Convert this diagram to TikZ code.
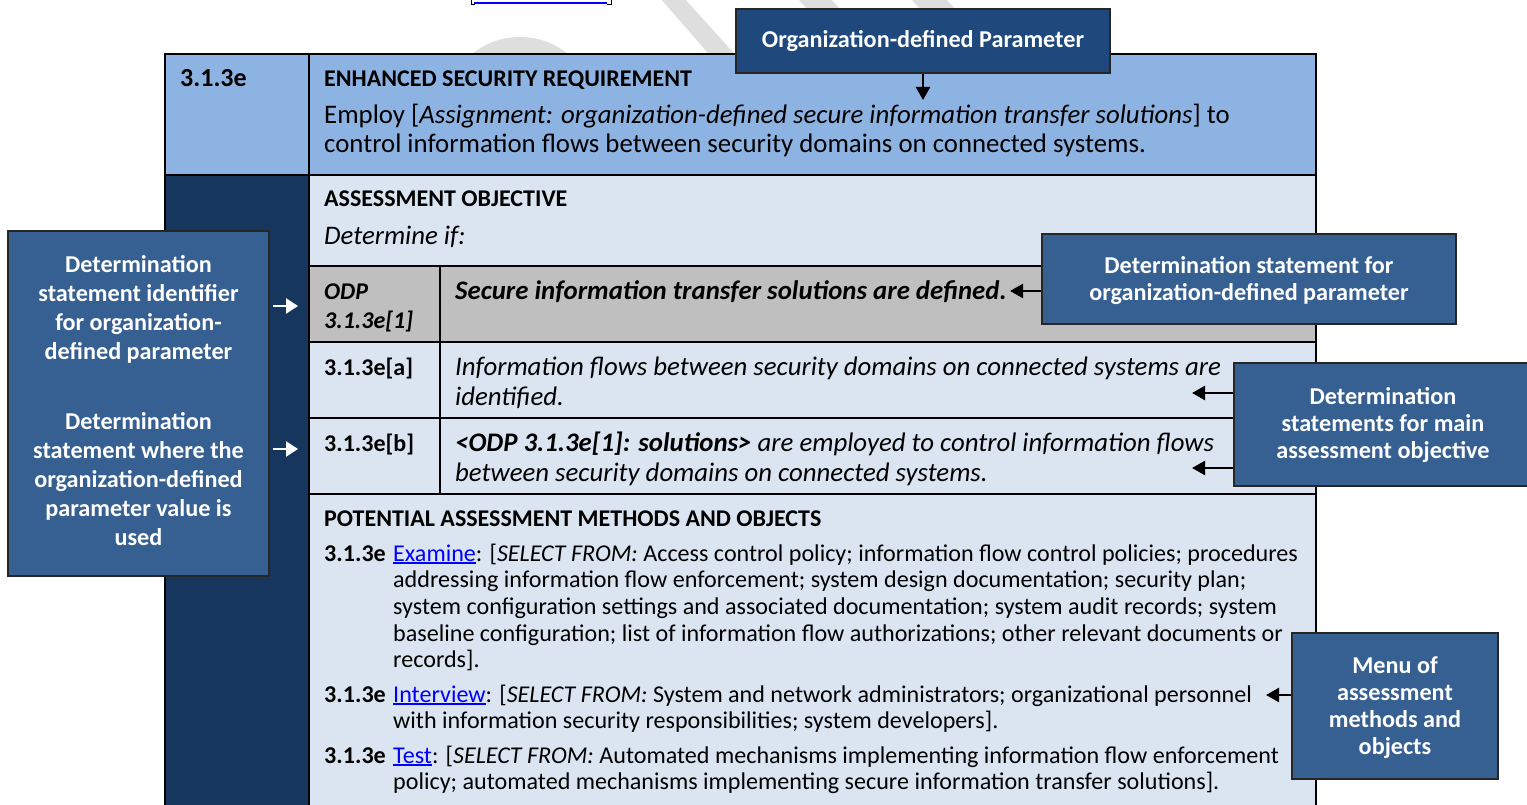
\documentclass[tikz,border=0pt]{standalone}
\usepackage{fontspec}
\setmainfont{Carlito}
\usetikzlibrary{arrows.meta}
\definecolor{hdr}{HTML}{8DB3E2}
\definecolor{navy}{HTML}{17365D}
\definecolor{pale}{HTML}{DBE5F1}
\definecolor{odpgray}{HTML}{BFBFBF}
\definecolor{callout}{HTML}{376092}
\definecolor{calloutdark}{HTML}{1F497D}
\definecolor{wm}{HTML}{DEDEDE}
\definecolor{linkblue}{HTML}{0000FF}
\newcommand\lnk[1]{\textcolor{linkblue}{\setbox0\hbox{#1}\rlap{\rule[-3.2pt]{\wd0}{1.9pt}}\box0}}
\newcommand\objfont{\fontsize{26.8}{30}\selectfont}
\newcommand\metfont{\fontsize{24.1}{27}\selectfont}
\begin{document}
\begin{tikzpicture}[x=1pt,y=-1pt,
  tx/.style={anchor=base west,inner sep=0pt,font=\objfont},
  hd/.style={anchor=base west,inner sep=0pt,font=\fontsize{24}{27}\selectfont\bfseries},
  lab/.style={anchor=base west,inner sep=0pt,font=\fontsize{24}{27}\selectfont\bfseries},
  mt/.style={anchor=base west,inner sep=0pt,font=\metfont},
  callbox/.style={draw=black!85,line width=1.6pt,fill=callout,inner sep=0pt},
  calltext/.style={text=white,font=\fontsize{24.2}{27}\selectfont\bfseries,align=center,inner sep=0pt},
  blackarrow/.style={-{Triangle[length=13pt,width=14pt]},line width=2.5pt,black},
  whitearrow/.style={-{Triangle[length=12pt,width=15pt]},line width=2.5pt,white},
  gridline/.style={line width=1.7pt,black}]
\useasboundingbox (0,0) rectangle (1527,805);
\fill[white] (0,0) rectangle (1527,805);
% watermark fragments
\fill[wm] (660,-2) -- (684,-2) -- (740,60) -- (714,60) -- cycle;
\fill[wm] (797,-2) -- (830,-2) -- (850,20) -- (817,20) -- cycle;
\fill[wm] (910,-2) -- (945,-2) -- (965,20) -- (930,20) -- cycle;
\fill[wm] (520,100) ellipse [x radius=70, y radius=63];
% cut-off line at the top
\draw[linkblue,line width=1.5pt] (474,3) -- (607,3);
\draw[black,line width=1pt] (471,0) -- (471,4.5) -- (475,4.5);
\draw[black,line width=1pt] (611,0) -- (611,4.5) -- (607,4.5);
% table fills
\fill[hdr] (165,54) rectangle (1316,175);
\fill[navy] (165,175) rectangle (309,805);
\fill[pale] (309,175) rectangle (1316,805);
\fill[odpgray] (309,266) rectangle (1316,342);
% table lines
\draw[gridline] (165,806) -- (165,54) -- (1316,54) -- (1316,806);
\draw[gridline] (309,54) -- (309,806);
\draw[gridline] (165,175) -- (1316,175);
\draw[gridline] (309,266) -- (1316,266);
\draw[gridline] (309,342) -- (1316,342);
\draw[gridline] (309,418) -- (1316,418);
\draw[gridline] (309,494) -- (1316,494);
\draw[gridline] (440,266) -- (440,494);
% header row
\node[hd,font=\fontsize{26}{29}\selectfont\bfseries] (reqid) at (180,87) {3.1.3e};
\node[hd] (reqtitle) at (324,87) {ENHANCED SECURITY REQUIREMENT};
\node[tx] (req1) at (324,124) {Employ [\textit{Assignment: organization-defined secure information transfer solutions}] to};
\node[tx] (req2) at (324,153) {control information flows between security domains on connected systems.};
% assessment objective
\node[hd] (aotitle) at (324,207) {ASSESSMENT OBJECTIVE};
\node[tx,font=\objfont\itshape] (detif) at (324,245) {Determine if:};
\node[lab,font=\fontsize{24}{27}\selectfont\bfseries\itshape] (odp1) at (324,299) {ODP};
\node[lab,font=\fontsize{24}{27}\selectfont\bfseries\itshape] (odp2) at (324,328) {3.1.3e[1]};
\node[tx,font=\objfont\bfseries\itshape] (odptxt) at (455,299) {Secure information transfer solutions are defined.};
\node[lab] (ida) at (324,375) {3.1.3e[a]};
\node[tx,font=\objfont\itshape] (a1) at (455,375) {Information flows between security domains on connected systems are};
\node[tx,font=\objfont\itshape] (a2) at (455,405) {identified.};
\node[lab] (idb) at (324,451) {3.1.3e[b]};
\node[tx,font=\objfont\itshape] (b1) at (455,451) {\textbf{<ODP 3.1.3e[1]: solutions>} are employed to control information flows};
\node[tx,font=\objfont\itshape] (b2) at (455,481) {between security domains on connected systems.};
% methods
\node[hd] (mtitle) at (324,526) {POTENTIAL ASSESSMENT METHODS AND OBJECTS};
\node[mt,font=\metfont\bfseries] (e0) at (324,561) {3.1.3e};
\node[mt] (e1) at (393,561) {\lnk{Examine}: [\textit{SELECT FROM:} Access control policy; information flow control policies; procedures};
\node[mt] (e2) at (393,587) {addressing information flow enforcement; system design documentation; security plan;};
\node[mt] (e3) at (393,614) {system configuration settings and associated documentation; system audit records; system};
\node[mt] (e4) at (393,641) {baseline configuration; list of information flow authorizations; other relevant documents or};
\node[mt] (e5) at (393,667) {records].};
\node[mt,font=\metfont\bfseries] (i0) at (324,702) {3.1.3e};
\node[mt] (i1) at (393,702) {\lnk{Interview}: [\textit{SELECT FROM:} System and network administrators; organizational personnel};
\node[mt] (i2) at (393,728) {with information security responsibilities; system developers].};
\node[mt,font=\metfont\bfseries] (t0) at (324,763) {3.1.3e};
\node[mt] (t1) at (393,763) {\lnk{Test}: [\textit{SELECT FROM:} Automated mechanisms implementing information flow enforcement};
\node[mt] (t2) at (393,789) {policy; automated mechanisms implementing secure information transfer solutions].};
% callouts
\node[callbox,fill=calloutdark,minimum width=374pt,minimum height=64pt] (orgbox) at (923,41) {};
\node[calltext] (orgtxt) at (923,41) {Organization-defined Parameter};
\node[callbox,minimum width=261pt,minimum height=345pt] (leftbox) at (138.5,403.5) {};
\node[calltext,font=\fontsize{24.2}{29}\selectfont\bfseries] (lefttxt) at (138.5,401) {Determination\\statement identifier\\for organization-\\defined parameter\\[41pt]Determination\\statement where the\\organization-defined\\parameter value is\\used};
\node[callbox,minimum width=414pt,minimum height=90pt] (odpbox) at (1249,279) {};
\node[calltext] (odpboxtxt) at (1249,281) {Determination statement for\\organization-defined parameter};
\node[callbox,minimum width=304pt,minimum height=123pt] (mainbox) at (1386,424.5) {};
\node[calltext] (mainboxtxt) at (1383,425) {Determination\\statements for main\\assessment objective};
\node[callbox,minimum width=206pt,minimum height=146pt] (menubox) at (1395,706) {};
\node[calltext] (menutxt) at (1395,708) {Menu of\\assessment\\methods and\\objects};
% arrows
\coordinate (orgtip) at (923,100);
\coordinate (wa1) at (298,306);
\coordinate (wa2) at (298,449);
\coordinate (odptip) at (1010,291);
\coordinate (ta) at (1192,393);
\coordinate (tb) at (1192,468);
\coordinate (mtip) at (1266,695);
\draw[blackarrow] (orgbox.south) -- (orgtip);
\draw[whitearrow] ([xshift=3pt]leftbox.east |- wa1) -- (wa1);
\draw[whitearrow] ([xshift=3pt]leftbox.east |- wa2) -- (wa2);
\draw[blackarrow] (odpbox.west |- odptip) -- (odptip);
\draw[blackarrow] (mainbox.west |- ta) -- (ta);
\draw[blackarrow] (mainbox.west |- tb) -- (tb);
\draw[blackarrow] (menubox.west |- mtip) -- (mtip);
\end{tikzpicture}
\end{document}
